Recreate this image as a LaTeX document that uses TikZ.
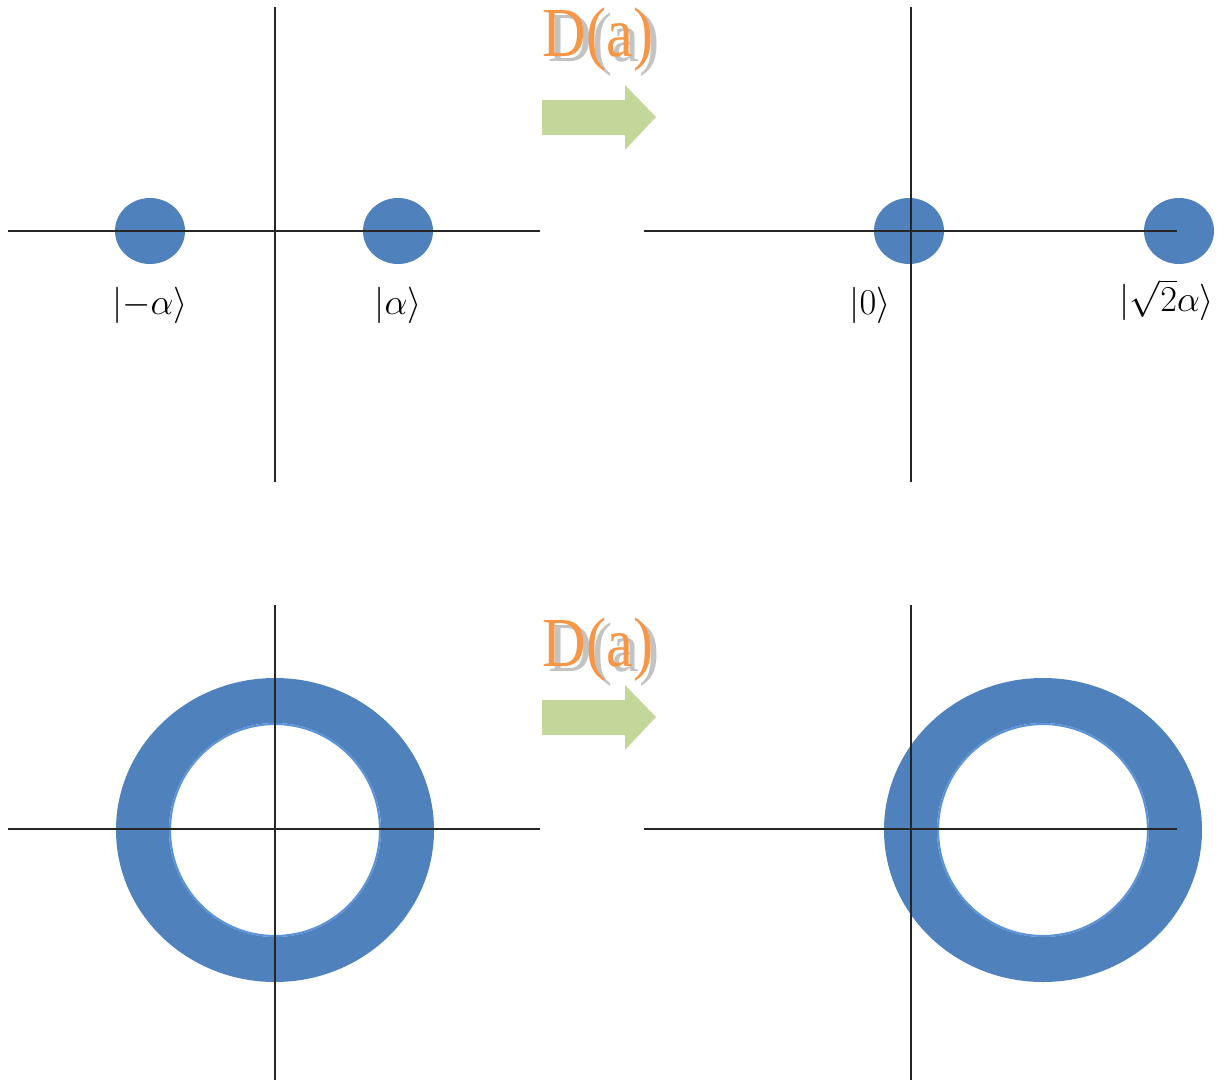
\documentclass[tikz,border=0pt]{standalone}
\usepackage{fontspec}
\setmainfont{Liberation Serif}
\definecolor{dotblue}{RGB}{79,129,189}
\definecolor{rimblue}{RGB}{92,146,214}
\definecolor{arrowgreen}{RGB}{196,215,155}
\definecolor{labelorange}{RGB}{247,150,70}
\definecolor{shadowgray}{RGB}{195,195,195}
\newcommand{\shadowop}{%
  \makebox[0pt][l]{\hspace{3.5pt}\raisebox{-2.5pt}{\textcolor{shadowgray}{\scalebox{0.86}[1]{D(a)}}}}%
  \textcolor{labelorange}{\scalebox{0.86}[1]{D(a)}}}
\tikzset{
  axis/.style={line width=0.9pt, black!85},
  ket/.style={inner sep=0pt, font=\fontsize{22}{26}\selectfont},
  oplabel/.style={inner sep=0pt, font=\fontsize{40}{44}\selectfont},
}
\begin{document}
\begin{tikzpicture}[x=0.02cm,y=-0.02cm]
    \useasboundingbox (0,0) rectangle (1225,1080);

    % top row: two coherent states
    \fill[dotblue] (150,231) ellipse (35 and 33);
    \fill[dotblue] (398,231) ellipse (35 and 33);
    \fill[dotblue] (909,231) ellipse (35 and 33);
    \fill[dotblue] (1179,231) ellipse (35 and 33);
    \draw[axis] (8,231) -- (540,231);
    \draw[axis] (275,7) -- (275,482);
    \draw[axis] (644,231) -- (1177,231);
    \draw[axis] (911,7) -- (911,482);

    \node[ket] (kminus) at (150,305) {$\Bigl|{-\alpha}\Bigr\rangle$};
    \node[ket] (kplus) at (398,305) {$\Bigl|\alpha\Bigr\rangle$};
    \node[ket] (kzero) at (870,305) {$\Bigl|0\Bigr\rangle$};
    \node[ket] (ksqrt) at (1167,300) {$\Bigl|\sqrt{2}\alpha\Bigr\rangle$};

    \node[oplabel] (optop) at (598,42) {\shadowop};
    \fill[arrowgreen] (542,100) -- (625,100) -- (625,85) -- (656,117)
      -- (625,150) -- (625,135) -- (542,135) -- cycle;

    % bottom row: ring before and after
    \fill[dotblue, even odd rule] (275,830) ellipse (159 and 152)
      (275,830) ellipse (106 and 107);
    \draw[rimblue, line width=1.2pt] (275,830) ellipse (105 and 106);
    \fill[dotblue, even odd rule] (1043,830) ellipse (159 and 152)
      (1043,830) ellipse (106 and 107);
    \draw[rimblue, line width=1.2pt] (1043,830) ellipse (105 and 106);
    \draw[axis] (8,829) -- (540,829);
    \draw[axis] (275,605) -- (275,1080);
    \draw[axis] (644,829) -- (1177,829);
    \draw[axis] (911,605) -- (911,1080);

    \node[oplabel] (opbot) at (598,652) {\shadowop};
    \fill[arrowgreen] (542,700) -- (625,700) -- (625,685) -- (656,717)
      -- (625,750) -- (625,735) -- (542,735) -- cycle;
  \end{tikzpicture}
\end{document}
